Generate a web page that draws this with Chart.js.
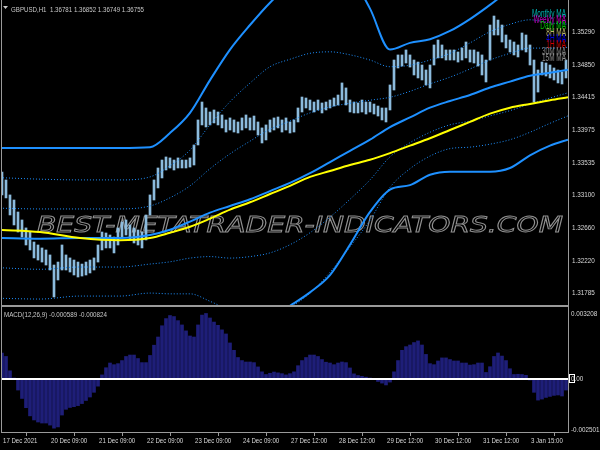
<!DOCTYPE html>
<html><head><meta charset="utf-8">
<script src="https://cdn.jsdelivr.net/npm/chart.js@4.4.1/dist/chart.umd.min.js"></script>
<style>
html,body{margin:0;padding:0;background:#000;}
#wrap{position:relative;width:600px;height:450px;overflow:hidden;background:#000;}
canvas{position:absolute;left:0;}
#main{top:0;}
#macd{top:306px;}
</style></head><body>
<div id="wrap"><canvas id="main" width="600" height="306"></canvas><canvas id="macd" width="600" height="144"></canvas></div>
<script>
// ---------- DATA ----------
const symbolTitle = 'GBPUSD,H1  1.36781 1.36852 1.36749 1.36755';
const macdTitle = 'MACD(12,26,9) -0.000589 -0.000824';
const legendNames = ['Monthly MA','Weekly MA','Daily MA','8H MA','4H MA','1H MA','30M MA','15M MA'];
const legendColors = ['#00b4b4','#c800c8','#00c800','#bdb76b','#0000e0','#d00000','#808080','#909090'];
const watermark = 'BEST-METATRADER-INDICATORS.COM';

const xTickIdx = [0,24,48,72,96,120,144,168,192,216,240,264];
const xTickLabels = ['17 Dec 2021','20 Dec 09:00','21 Dec 09:00','22 Dec 09:00','23 Dec 09:00','24 Dec 09:00','27 Dec 12:00','28 Dec 12:00','29 Dec 12:00','30 Dec 12:00','31 Dec 12:00','3 Jan 15:00'];
const priceTicks = [1.35290,1.34850,1.34415,1.33975,1.33535,1.33100,1.32660,1.32220,1.31785];
const macdTicks = [0.003208,0,-0.002501];
const macdTickLabels = ['0.003208','0.00','-0.002501'];
const macdLevels = [0];

// candles, one entry per two H1 bars (bar index = 2*k)
const candleLow = [
1.33098,1.33058,1.32829,1.32695,1.32600,1.32533,1.32426,1.32359,1.32252,1.32224,
1.32197,1.32157,1.32090,1.31728,1.31956,1.32090,1.32090,1.32063,1.32023,1.31996,
1.32009,1.32023,1.32050,1.32090,1.32197,1.32359,1.32386,1.32386,1.32319,1.32426,
1.32520,1.32560,1.32493,1.32453,1.32426,1.32386,1.32493,1.32829,1.33030,1.33192,
1.33326,1.33433,1.33460,1.33433,1.33460,1.33460,1.33460,1.33473,1.33500,1.33769,
1.34038,1.34011,1.34038,1.34065,1.34038,1.33998,1.33943,1.33970,1.33943,1.33930,
1.33970,1.33998,1.33970,1.33970,1.33903,1.33796,1.33836,1.33943,1.33970,1.33998,
1.33943,1.33970,1.33930,1.33943,1.34078,1.34212,1.34266,1.34239,1.34212,1.34239,
1.34199,1.34239,1.34266,1.34292,1.34306,1.34373,1.34306,1.34212,1.34199,1.34199,
1.34212,1.34185,1.34212,1.34185,1.34158,1.34105,1.34078,1.34239,1.34507,1.34803,
1.34829,1.34870,1.34816,1.34709,1.34669,1.34642,1.34575,1.34535,1.34843,1.34938,
1.34938,1.34910,1.34910,1.34910,1.34883,1.34910,1.34938,1.34883,1.34870,1.34829,
1.34709,1.34615,1.34910,1.35246,1.35246,1.35152,1.35072,1.35018,1.34978,1.34951,
1.35045,1.35018,1.34843,1.34346,1.34480,1.34709,1.34695,1.34669,1.34642,1.34602,
1.34588,1.34669];
const candleHigh = [
1.33406,1.33299,1.33098,1.33030,1.32869,1.32762,1.32655,1.32600,1.32466,1.32426,
1.32386,1.32359,1.32292,1.32157,1.32197,1.32426,1.32292,1.32252,1.32224,1.32197,
1.32170,1.32197,1.32224,1.32252,1.32426,1.32600,1.32587,1.32560,1.32533,1.32655,
1.32735,1.32762,1.32695,1.32655,1.32627,1.32600,1.32829,1.33098,1.33299,1.33460,
1.33567,1.33608,1.33595,1.33567,1.33595,1.33567,1.33567,1.33595,1.33769,1.34105,
1.34346,1.34266,1.34212,1.34239,1.34212,1.34172,1.34105,1.34132,1.34105,1.34078,
1.34132,1.34172,1.34132,1.34158,1.34078,1.33998,1.34038,1.34105,1.34132,1.34145,
1.34105,1.34132,1.34078,1.34105,1.34266,1.34413,1.34400,1.34373,1.34346,1.34373,
1.34333,1.34346,1.34373,1.34400,1.34440,1.34602,1.34535,1.34373,1.34346,1.34333,
1.34373,1.34346,1.34346,1.34319,1.34292,1.34266,1.34266,1.34575,1.34910,1.34978,
1.34978,1.35045,1.34978,1.34910,1.34883,1.34843,1.34776,1.34843,1.35112,1.35179,
1.35112,1.35045,1.35045,1.35045,1.35018,1.35072,1.35152,1.35045,1.35045,1.35018,
1.34978,1.34910,1.35380,1.35501,1.35447,1.35380,1.35246,1.35179,1.35152,1.35112,
1.35273,1.35246,1.35112,1.34910,1.34776,1.34883,1.34870,1.34843,1.34803,1.34776,
1.34749,1.34910];

// indicator lines, read at these bar indices
const lineKnots = [-1,19,39,59,74,84,94,104,114,124,134,144,154,164,174,184,194,204,214,224,234,244,254,264,274,283];
const yellowMA = [1.3263,1.3260,1.3252,1.3249,1.3252,1.3259,1.3267,1.3278,1.3290,1.3300,1.3311,1.3322,1.3334,1.3342,1.3350,1.3357,1.3366,1.3376,1.3386,1.3397,1.3408,1.3419,1.3427,1.3432,1.3437,1.3441];
const blueMA   = [1.3252,1.3251,1.3252,1.3252,1.3256,1.3263,1.3274,1.3286,1.3295,1.3304,1.3315,1.3326,1.3339,1.3354,1.3369,1.3384,1.3401,1.3414,1.3427,1.3436,1.3444,1.3454,1.3462,1.3470,1.3474,1.3478];
const bandUp3  = [1.3373,1.3373,1.3373,1.3373,1.3374,1.3393,1.3420,1.3464,1.3505,1.3538,1.3568,1.3592,1.3612,1.3619,1.3605,1.3560,1.3505,1.3514,1.3519,1.3530,1.3546,1.3565,1.3585,1.3598,1.3605,1.3612];
const bandUp2  = [1.3333,1.3331,1.3330,1.3330,1.3334,1.3349,1.3370,1.3404,1.3435,1.3460,1.3482,1.3492,1.3500,1.3502,1.3498,1.3491,1.3482,1.3484,1.3491,1.3500,1.3514,1.3529,1.3539,1.3545,1.3541,1.3539];
const bandUp1  = [1.3292,1.3291,1.3291,1.3291,1.3295,1.3306,1.3322,1.3345,1.3365,1.3382,1.3398,1.3409,1.3420,1.3428,1.3433,1.3437,1.3441,1.3449,1.3459,1.3468,1.3479,1.3491,1.3500,1.3507,1.3507,1.3508];
const bandDn1  = [1.3212,1.3210,1.3213,1.3213,1.3217,1.3220,1.3225,1.3227,1.3225,1.3227,1.3232,1.3243,1.3259,1.3280,1.3304,1.3330,1.3361,1.3380,1.3394,1.3404,1.3409,1.3416,1.3423,1.3432,1.3440,1.3447];
const bandDn2  = [1.3171,1.3170,1.3174,1.3174,1.3178,1.3177,1.3177,1.3167,1.3155,1.3149,1.3149,1.3159,1.3178,1.3206,1.3240,1.3276,1.3320,1.3345,1.3362,1.3372,1.3374,1.3378,1.3384,1.3394,1.3406,1.3416];
const bandDn3  = [1.3135,1.3135,1.3134,1.3134,1.3137,1.3128,1.3122,1.3122,1.3128,1.3135,1.3144,1.3161,1.3179,1.3202,1.3243,1.3287,1.3317,1.3323,1.3337,1.3341,1.3341,1.3341,1.3346,1.3363,1.3376,1.3384];

// MACD histogram, one entry per two bars
const macdHist = [
0.00127,0.00110,0.00040,0.00005,-0.00054,-0.00095,-0.00140,-0.00180,-0.00200,-0.00210,
-0.00215,-0.00215,-0.00225,-0.00240,-0.00234,-0.00176,-0.00148,-0.00139,-0.00135,-0.00130,
-0.00120,-0.00105,-0.00088,-0.00065,-0.00035,0.00020,0.00055,0.00078,0.00070,0.00075,
0.00090,0.00110,0.00117,0.00117,0.00100,0.00080,0.00080,0.00115,0.00165,0.00205,
0.00260,0.00295,0.00310,0.00305,0.00285,0.00264,0.00235,0.00210,0.00205,0.00264,
0.00312,0.00320,0.00298,0.00278,0.00262,0.00240,0.00220,0.00176,0.00140,0.00105,
0.00090,0.00083,0.00083,0.00080,0.00059,0.00035,0.00022,0.00028,0.00034,0.00030,
0.00026,0.00020,0.00026,0.00035,0.00065,0.00090,0.00105,0.00117,0.00117,0.00110,
0.00095,0.00082,0.00078,0.00070,0.00078,0.00083,0.00080,0.00054,0.00025,0.00017,
0.00013,0.00009,0.00005,-0.00003,-0.00012,-0.00020,-0.00029,-0.00015,0.00035,0.00090,
0.00140,0.00158,0.00166,0.00178,0.00186,0.00166,0.00120,0.00075,0.00070,0.00088,
0.00103,0.00103,0.00095,0.00088,0.00088,0.00078,0.00078,0.00068,0.00070,0.00078,
0.00078,0.00032,0.00060,0.00110,0.00127,0.00112,0.00090,0.00050,0.00022,0.00023,
0.00022,0.00018,-0.00005,-0.00065,-0.00103,-0.00098,-0.00090,-0.00085,-0.00080,-0.00078,
-0.00083,-0.00054];

// ---------- CHARTS ----------
const FF = '"Liberation Sans", Arial, sans-serif';
Chart.defaults.font.family = FF;
const AXIS_TXT = '#d8d8d8';
const FRAME = '#9a9a9a';
const AXIS_SX = 0.79;

function drawTxt(ctx, txt, x, y, size, sx, color, align, baseline){
  ctx.save();
  ctx.font = size + 'px ' + FF;
  ctx.fillStyle = color;
  ctx.textAlign = align || 'left';
  ctx.textBaseline = baseline || 'alphabetic';
  ctx.translate(x, y);
  ctx.scale(sx, 1);
  ctx.fillText(txt, 0, 0);
  ctx.restore();
}
function fitScale(ctx, txt, size, width){
  ctx.save(); ctx.font = size + 'px ' + FF;
  const w = ctx.measureText(txt).width; ctx.restore();
  return width / w;
}

const toXY = (xs, ys) => ys.map((v,i)=>({x:xs[i], y:v}));
function lineDS(vals, color, width, dash, order){
  return {type:'line', data: toXY(lineKnots, vals), borderColor: color, borderWidth: width,
    borderDash: dash || [], pointRadius: 0, cubicInterpolationMode: 'monotone', order: order, clip: 0, fill:false};
}
const candleData = candleLow.map((lo,k)=>({x:k*2, y:[lo, candleHigh[k]]}));

const mainDeco = {
  id:'mainDeco',
  beforeDatasetsDraw(chart){
    const ctx = chart.ctx;
    ctx.save();
    ctx.font = 'italic 21px "DejaVu Sans"';
    const w = ctx.measureText(watermark).width;
    const sx = 526 / w;
    ctx.translate(37, 232);
    ctx.scale(sx, 1);
    ctx.lineWidth = 0.9;
    ctx.strokeStyle = '#909090';
    ctx.strokeText(watermark, 0, 0);
    ctx.restore();
  },
  afterDraw(chart){
    const {ctx, chartArea:a} = chart;
    ctx.save();
    ctx.strokeStyle = FRAME; ctx.lineWidth = 1;
    ctx.beginPath();
    ctx.moveTo(a.left-0.5, 0); ctx.lineTo(a.left-0.5, a.bottom+0.5);
    ctx.moveTo(a.right+0.5, 0); ctx.lineTo(a.right+0.5, a.bottom+0.5);
    ctx.moveTo(a.left-1, a.bottom+0.5); ctx.lineTo(a.right+1, a.bottom+0.5);
    ctx.stroke();
    // title
    ctx.fillStyle = '#c8c8c8';
    ctx.beginPath(); ctx.moveTo(3,6); ctx.lineTo(8,6); ctx.lineTo(5.5,9); ctx.closePath(); ctx.fill();
    ctx.restore();
    drawTxt(ctx, symbolTitle, 11, 11.5, 8, fitScale(ctx, symbolTitle, 8, 133), '#c8c8c8');
    // legend
    const lsx = fitScale(ctx, legendNames[0], 10, 34);
    const ys = [17,23,29,36,42,48,55,61];
    legendNames.forEach((n,i)=> drawTxt(ctx, n, 566, ys[i], 10, lsx, legendColors[i], 'right'));
    // price axis labels
    const ys2 = chart.scales.y;
    priceTicks.forEach(v => drawTxt(ctx, v.toFixed(5), 572, ys2.getPixelForValue(v), 8, AXIS_SX, AXIS_TXT, 'left', 'middle'));
  }
};

new Chart(document.getElementById('main'), {
  type:'bar',
  data:{datasets:[
    {type:'bar', data:candleData, backgroundColor:'#8cbbdd', barThickness:2, grouped:false, order:10},
    lineDS(bandUp2, '#1e90ff', 1, [1,2], 5),
    lineDS(bandUp1, '#1e90ff', 1, [1,2], 5),
    lineDS(bandDn1, '#1e90ff', 1, [1,2], 5),
    lineDS(bandDn2, '#1e90ff', 1, [1,2], 5),
    lineDS(bandUp3, '#1e90ff', 2, [], 4),
    lineDS(bandDn3, '#1e90ff', 2, [], 4),
    lineDS(blueMA, '#1e90ff', 2, [], 3),
    lineDS(yellowMA, '#ffff00', 2, [], 2)
  ]},
  options:{
    responsive:false, animation:false, devicePixelRatio:1,
    layout:{padding:{left:2, top:0, right:0, bottom:1}},
    plugins:{legend:{display:false}, tooltip:{enabled:false}},
    scales:{
      x:{type:'linear', min:0, max:283, offset:false, display:false},
      y:{position:'right', min:1.31620, max:1.35716,
        afterBuildTicks:s=>{ s.ticks = priceTicks.map(v=>({value:v})); },
        afterFit:s=>{ s.width = 32; },
        grid:{display:false, drawTicks:false}, border:{display:false},
        ticks:{display:false, autoSkip:false, callback:(v)=>Number(v).toFixed(5)}}
    }
  },
  plugins:[mainDeco]
});

const macdDeco = {
  id:'macdDeco',
  afterDraw(chart){
    const {ctx, chartArea:a} = chart;
    ctx.save();
    ctx.strokeStyle = FRAME; ctx.lineWidth = 1;
    ctx.beginPath();
    ctx.moveTo(a.left-1, 0.5); ctx.lineTo(a.right+1, 0.5);
    ctx.moveTo(a.left-0.5, 0); ctx.lineTo(a.left-0.5, a.bottom+0.5);
    ctx.moveTo(a.right+0.5, 0); ctx.lineTo(a.right+0.5, a.bottom+0.5);
    ctx.moveTo(a.left-1, a.bottom+0.5); ctx.lineTo(a.right+1, a.bottom+0.5);
    ctx.stroke();
    const y0 = chart.scales.y.getPixelForValue(0);
    ctx.strokeStyle = '#ffffff'; ctx.lineWidth = 1;
    ctx.strokeRect(569.5, Math.round(y0) - 4.5, 5, 8);
    ctx.restore();
    drawTxt(ctx, macdTitle, 4, 11, 8, fitScale(ctx, macdTitle, 8, 103), '#c8c8c8');
    const ys = chart.scales.y;
    macdTicks.forEach((v,i)=> drawTxt(ctx, macdTickLabels[i], 571, ys.getPixelForValue(v), 8, AXIS_SX, AXIS_TXT, 'left', 'middle'));
    const xs = chart.scales.x;
    xTickIdx.forEach((v,i)=> drawTxt(ctx, xTickLabels[i], xs.getPixelForValue(v) + 1, a.bottom + 9, 8, 0.76, AXIS_TXT, 'left', 'middle'));
  }
};

new Chart(document.getElementById('macd'), {
  type:'bar',
  data:{datasets:[
    {type:'line', data: macdLevels.flatMap(v=>[{x:0,y:v},{x:283,y:v}]), borderColor:'#ffffff', borderWidth:2, pointRadius:0, order:0, clip:0},
    {type:'bar', data: macdHist.map((v,k)=>({x:k*2, y:v})), backgroundColor:'#1e1e78', barThickness:3, grouped:false, order:5}
  ]},
  options:{
    responsive:false, animation:false, devicePixelRatio:1,
    layout:{padding:{left:2, top:1, right:0, bottom:0}},
    plugins:{legend:{display:false}, tooltip:{enabled:false}},
    scales:{
      x:{type:'linear', min:0, max:283, offset:false,
        afterBuildTicks:s=>{ s.ticks = xTickIdx.map(v=>({value:v})); },
        afterFit:s=>{ s.height = 18; },
        grid:{drawOnChartArea:false, drawTicks:true, tickLength:4, color:FRAME},
        border:{display:false},
        ticks:{display:false, autoSkip:false, maxRotation:0, callback:(v,i)=>xTickLabels[i]}},
      y:{position:'right', min:-0.002588, max:0.0035158,
        afterBuildTicks:s=>{ s.ticks = macdTicks.map(v=>({value:v})); },
        afterFit:s=>{ s.width = 32; },
        grid:{display:false, drawTicks:false}, border:{display:false},
        ticks:{display:false, autoSkip:false, callback:(v,i)=>macdTickLabels[i]}}
    }
  },
  plugins:[macdDeco]
});
</script>
</body></html>
